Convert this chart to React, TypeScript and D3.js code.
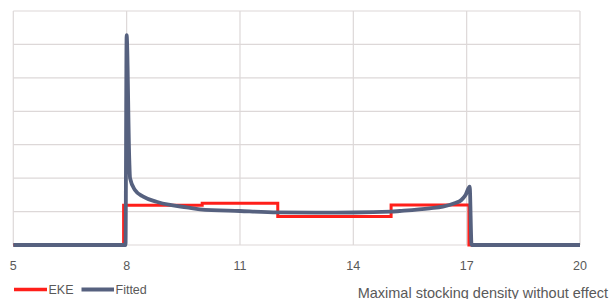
import React from "react";
import * as d3 from "d3";

const xTicks = [5, 8, 11, 14, 17, 20];
const yGrid = [0, 1, 2, 3, 4, 5, 6, 7];

// EKE step function: breakpoints and level after each breakpoint
const ekeX = [5, 7.92, 10, 12, 15, 17.06, 20];
const ekeY = [0, 1.19, 1.25, 0.85, 1.2, 0, 0];

// Fitted curve
const fitX = [5, 7.97, 8.0, 8.07, 8.09, 8.22, 8.44, 8.79, 9.15, 9.59, 9.94, 11, 12, 13, 14, 15, 15.23, 16.02, 16.37, 16.68, 16.86, 16.97, 17.08, 17.13, 20];
const fitY = [0, 0, 6.28, 2.54, 2.0, 1.645, 1.445, 1.295, 1.197, 1.128, 1.068, 1.017, 0.978, 0.97, 0.972, 0.996, 1.017, 1.098, 1.146, 1.247, 1.346, 1.496, 1.744, 0, 0];

const seriesNames = ["EKE", "Fitted"];
const axisTitle = "Maximal stocking density without effect";

const W = 610, H = 299;
const left = 13.3, right = 580, top = 11, bottom = 245;
const RED = "#ff1f1a";
const BLUE = "#56617f";
const GRID = "#ddd8d8";
const TEXT = "#595959";
const FONT = "'Liberation Sans', Arial, sans-serif";

export default function App() {
  const x = d3.scaleLinear().domain([5, 20]).range([left, right]);
  const y = d3.scaleLinear().domain([0, 7]).range([bottom, top]);

  const ekePts: [number, number][] = ekeX.map((v, i) => [v, ekeY[i]]);
  const fitPts: [number, number][] = fitX.map((v, i) => [v, fitY[i]]);

  const ekeLine = d3.line<[number, number]>().x(d => x(d[0])).y(d => y(d[1])).curve(d3.curveStepAfter);
  const fitLine = d3.line<[number, number]>().x(d => x(d[0])).y(d => y(d[1])).curve(d3.curveMonotoneX);

  return (
    <div style={{ position: "fixed", left: 0, top: 0 }}>
      <svg width={W} height={H} style={{ display: "block", background: "#fff" }}>
        {yGrid.map(v => (
          <line key={"h" + v} x1={left} x2={right} y1={y(v)} y2={y(v)} stroke={GRID} strokeWidth={1.2} />
        ))}
        {xTicks.map(v => (
          <line key={"v" + v} x1={x(v)} x2={x(v)} y1={top} y2={bottom} stroke={GRID} strokeWidth={1.2} />
        ))}
        <path d={ekeLine(ekePts) || ""} fill="none" stroke={RED} strokeWidth={3} strokeLinejoin="miter" />
        <path d={fitLine(fitPts) || ""} fill="none" stroke={BLUE} strokeWidth={3.8} strokeLinejoin="round" />
        {xTicks.map(v => (
          <text key={"t" + v} x={x(v)} y={269.5} textAnchor="middle" fontFamily={FONT} fontSize={12.5} fill={TEXT}>
            {v}
          </text>
        ))}
        <line x1={14} x2={47} y1={289.5} y2={289.5} stroke={RED} strokeWidth={3.5} />
        <text x={48.5} y={294} fontFamily={FONT} fontSize={12.5} fill={TEXT}>{seriesNames[0]}</text>
        <line x1={81.5} x2={114} y1={289.5} y2={289.5} stroke={BLUE} strokeWidth={3.8} />
        <text x={115.5} y={294} fontFamily={FONT} fontSize={12.5} fill={TEXT}>{seriesNames[1]}</text>
        <text x={608} y={297.5} textAnchor="end" fontFamily={FONT} fontSize={14.5} fill={TEXT}>{axisTitle}</text>
      </svg>
    </div>
  );
}
